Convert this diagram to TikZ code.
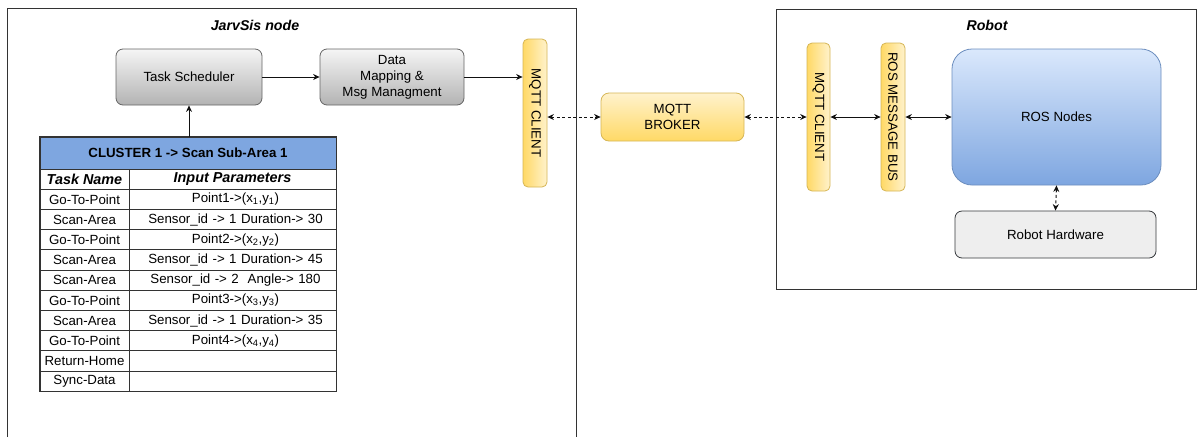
\documentclass[tikz,border=0pt]{standalone}
\usepackage{fontspec}
\setmainfont{Liberation Sans}
\usetikzlibrary{arrows.meta,calc}

\definecolor{frameline}{HTML}{333333}
\definecolor{grayline}{HTML}{666666}
\definecolor{graytop}{HTML}{F5F5F5}
\definecolor{graybot}{HTML}{B3B3B3}
\definecolor{yelline}{HTML}{D6B656}
\definecolor{yellight}{HTML}{FFF2CC}
\definecolor{yeldark}{HTML}{FFD966}
\definecolor{blueline}{HTML}{6C8EBF}
\definecolor{bluetop}{HTML}{DAE8FC}
\definecolor{bluebot}{HTML}{7EA6E0}
\definecolor{hwfill}{HTML}{EEEEEE}
\definecolor{hwline}{HTML}{36393D}
\definecolor{headfill}{HTML}{7EA6E0}
\definecolor{arrowcol}{HTML}{111111}

\begin{document}
\begin{tikzpicture}[x=1pt,y=-1pt,
  txt/.style={font=\fontsize{13.3}{16}\selectfont, align=center},
  title/.style={font=\fontsize{14.2}{17}\selectfont\bfseries\itshape},
  graybox/.style={txt, draw=grayline, line width=0.8pt, rounded corners=7pt,
    top color=graytop, bottom color=graybot, inner sep=0pt},
  yelbox/.style={txt, draw=yelline, line width=0.8pt, rounded corners=6pt,
    top color=yellight, bottom color=yeldark, inner sep=0pt},
  yelbar/.style={draw=yelline, line width=0.8pt, rounded corners=5pt,
    left color=yeldark, right color=yellight, inner sep=0pt},
  bartext/.style={txt, rotate=-90, inner sep=0pt},
  cell/.style={txt, draw=frameline, line width=0.7pt, inner sep=0pt,
    minimum height=20.2pt},
  solidarrow/.style={draw=arrowcol, line width=0.9pt,
    -{Stealth[length=6.5pt,width=6pt]}},
  bothsolid/.style={draw=arrowcol, line width=0.9pt,
    {Stealth[length=6.5pt,width=6pt]}-{Stealth[length=6.5pt,width=6pt]}},
  bothdotted/.style={draw=arrowcol, line width=1pt, dash pattern=on 3pt off 2.5pt,
    {Stealth[length=6.5pt,width=6pt]}-{Stealth[length=6.5pt,width=6pt]}},
]
\useasboundingbox (0,0) rectangle (1198,437);
\fill[white] (0,0) rectangle (1198,437);

% container frames
\draw[frameline, line width=1pt] (7.5,437) -- (7.5,8.5) -- (576,8.5) -- (576,437);
\draw[frameline, line width=1pt] (776,9) rectangle (1196,289);
\node[title] (jtitle) at (255,25) {JarvSis node};
\node[title] (rtitle) at (987,25) {Robot};

% JarvSis node side
\node[graybox, minimum width=146pt, minimum height=56pt] (ts) at (189,77) {Task Scheduler};
\node[graybox, minimum width=144pt, minimum height=56pt] (dm) at (392,77) {Data\\Mapping \&\\Msg Managment};
\node[yelbar, minimum width=24pt, minimum height=148pt] (lc) at (535,113) {};
\node[bartext] (lct) at (lc) {MQTT CLIENT};

% broker
\node[yelbox, rounded corners=8pt, minimum width=143pt, minimum height=48pt] (br) at (672.5,117) {MQTT\\BROKER};

% robot side
\node[yelbar, minimum width=23pt, minimum height=148pt] (rc) at (818.5,117) {};
\node[bartext] (rct) at (rc) {MQTT CLIENT};
\node[yelbar, minimum width=24pt, minimum height=148pt] (bus) at (893,117) {};
\node[bartext] (bust) at (bus) {ROS MESSAGE BUS};
\node[txt, draw=blueline, line width=0.8pt, rounded corners=20pt, top color=bluetop,
  bottom color=bluebot, minimum width=209pt, minimum height=136pt, inner sep=0pt] (ros) at (1056.5,117) {ROS Nodes};
\node[txt, draw=hwline, line width=0.8pt, rounded corners=7pt, fill=hwfill,
  minimum width=201pt, minimum height=47pt, inner sep=0pt] (hw) at (1055.5,234.5) {Robot Hardware};

% task table
\node[txt, font=\fontsize{13.3}{16}\selectfont\bfseries, draw=frameline, line width=0.7pt,
  fill=headfill, minimum width=296pt, minimum height=32pt, inner sep=0pt] (hdr) at (188,153) {CLUSTER 1 -> Scan Sub-Area 1};
\node[cell, minimum width=89pt, font=\fontsize{14.4}{16}\selectfont\bfseries\itshape] (r1a) at (84.5,179.1) {Task Name};
\node[cell, minimum width=207pt, font=\fontsize{14.4}{16}\selectfont\bfseries\itshape] (r1b) at (232.5,179.1) {Input Parameters};
\foreach \i/\a/\b in {
  2/Go-To-Point/{Point1->(x\textsubscript{1},y\textsubscript{1})},
  3/Scan-Area/{Sensor\_id -> 1 Duration-> 30},
  4/Go-To-Point/{Point2->(x\textsubscript{2},y\textsubscript{2})},
  5/Scan-Area/{Sensor\_id -> 1 Duration-> 45},
  6/Scan-Area/{Sensor\_id -> 2\ \ Angle-> 180},
  7/Go-To-Point/{Point3->(x\textsubscript{3},y\textsubscript{3})},
  8/Scan-Area/{Sensor\_id -> 1 Duration-> 35},
  9/Go-To-Point/{Point4->(x\textsubscript{4},y\textsubscript{4})},
  10/Return-Home/{},
  11/Sync-Data/{}} {
  \node[cell, minimum width=89pt] (r\i a) at (84.5,{169+20.2*(\i-0.5)}) {\a};
  \node[cell, minimum width=207pt, text width=200pt, align=center] (r\i b) at (232.5,{169+20.2*(\i-0.5)}) {\hspace*{6pt}\b};
}
\draw[frameline, line width=1.6pt] (hdr.north west) rectangle (r11b.south east);

% connectors
\draw[solidarrow] (ts.south |- hdr.north) -- (ts.south);
\draw[solidarrow] (ts.east) -- (dm.west);
\draw[solidarrow] (dm.east) -- (dm.east -| lc.west);
\draw[bothdotted] (lc.east |- br.west) -- (br.west);
\draw[bothdotted] (br.east) -- (br.east -| rc.west);
\draw[bothsolid] (rc.east |- bus.west) -- (bus.west);
\draw[bothsolid] (bus.east) -- (bus.east -| ros.west);
\draw[bothdotted] (ros.south) -- (hw.north);
\end{tikzpicture}
\end{document}
